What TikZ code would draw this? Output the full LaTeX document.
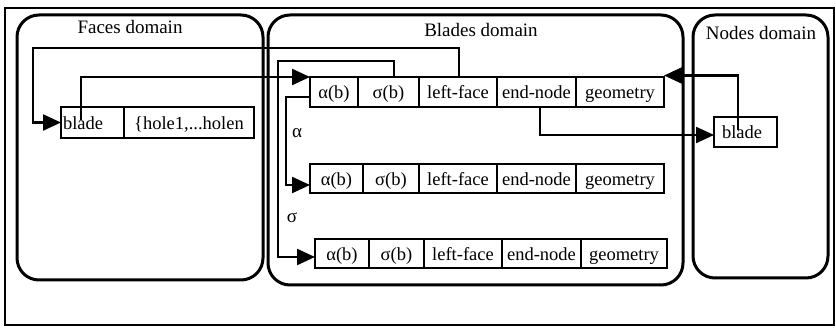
\documentclass[tikz,border=0pt]{standalone}
\usepackage{fontspec}
\setmainfont{Liberation Serif}
\usetikzlibrary{arrows.meta}
\begin{document}
\begin{tikzpicture}[x=1pt,y=-1pt,
  outerbox/.style={draw, line width=2.2pt},
  domainbox/.style={draw, line width=3pt, rounded corners=22pt},
  cell/.style={draw, line width=2.6pt, inner sep=0pt, outer sep=0pt, text height=14pt, text depth=0pt, font=\fontsize{18.5}{20}\selectfont},
  titletext/.style={inner sep=0pt, font=\fontsize{19}{20}\selectfont},
  link/.style={line width=2.3pt},
  arr/.style={link, -{Triangle[length=18pt,width=16pt]}}]
\useasboundingbox (0,0) rectangle (836,328);
\draw[outerbox] (5,8) rectangle (834,325);
% domains
\draw[domainbox] (17,15) rectangle (263,280);
\draw[domainbox] (268,15) rectangle (683,285);
\draw[domainbox] (693,15) rectangle (828,278);
\node[titletext] (tf) at (130,27) {Faces domain};
\node[titletext] (tb) at (481,30) {Blades domain};
\node[titletext] (tn) at (761,33) {Nodes domain};
% faces record
\node[cell, minimum width=63pt, minimum height=31pt, text width=59pt, align=left] (fb) at (92.5,122.5) {blade};
\node[cell, minimum width=130pt, minimum height=31pt] (fh) at (189,122.5) {\{hole1,...holen};
% blades row 1
\node[cell, minimum width=48pt, minimum height=30pt] (r1a) at (334,92) {α(b)};
\node[cell, minimum width=61pt, minimum height=30pt] (r1s) at (388.5,92) {σ(b)};
\node[cell, minimum width=78pt, minimum height=30pt] (r1lf) at (458,92) {left-face};
\node[cell, minimum width=79pt, minimum height=30pt] (r1en) at (536.5,92) {end-node};
\node[cell, minimum width=88pt, minimum height=30pt] (r1g) at (620,92) {geometry};
% blades row 2
\node[cell, minimum width=53pt, minimum height=29pt] (r2a) at (336.5,178.5) {α(b)};
\node[cell, minimum width=56pt, minimum height=29pt] (r2s) at (391,178.5) {σ(b)};
\node[cell, minimum width=78pt, minimum height=29pt] (r2lf) at (458,178.5) {left-face};
\node[cell, minimum width=79pt, minimum height=29pt] (r2en) at (536.5,178.5) {end-node};
\node[cell, minimum width=88pt, minimum height=29pt] (r2g) at (620,178.5) {geometry};
% blades row 3
\node[cell, minimum width=54pt, minimum height=29pt] (r3a) at (342,253.5) {α(b)};
\node[cell, minimum width=55pt, minimum height=29pt] (r3s) at (396.5,253.5) {σ(b)};
\node[cell, minimum width=78pt, minimum height=29pt] (r3lf) at (463,253.5) {left-face};
\node[cell, minimum width=79pt, minimum height=29pt] (r3en) at (541.5,253.5) {end-node};
\node[cell, minimum width=86pt, minimum height=29pt] (r3g) at (624,253.5) {geometry};
% nodes record
\node[cell, minimum width=63pt, minimum height=30pt, text width=47pt, align=left] (nb) at (745.5,132) {blade};
% connectors
\draw[arr] (fb.north west) ++(20,13) |- (r1a.north west);
\draw[arr] ([xshift=1pt]r1lf.north) |- (33,48) |- (fb.west);
\draw[arr] ([xshift=5.5pt]r1s.north) |- (278,61) |- ([yshift=-3.5pt]r3a.west);
\draw[arr] ([yshift=-5pt]r1a.west) -- ++(-24,0) |- ([yshift=-6.5pt]r2a.west);
\draw[arr] ([xshift=3.5pt]r1en.south) |- ([yshift=-3pt]nb.west);
\draw[arr] ([xshift=-7.5pt,yshift=2pt]nb.center) |- ([yshift=1.5pt]r1g.north east);
% labels
\node[titletext] (la) at (297,133) {α};
\node[titletext] (ls) at (292,218) {σ};
\end{tikzpicture}
\end{document}
